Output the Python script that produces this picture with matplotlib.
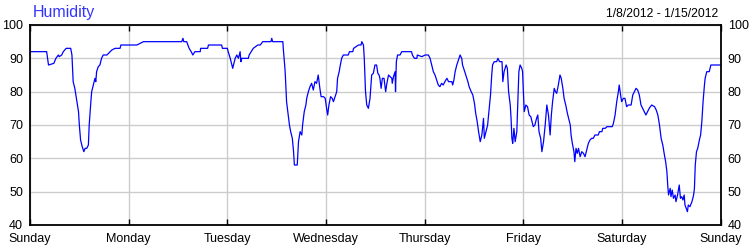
import matplotlib
matplotlib.use("Agg")
import matplotlib.pyplot as plt

# hours since Sunday 1/8/2012 00:00 and relative humidity (%)
hours = [
    0.0, 4.05, 4.5, 5.8, 6.3, 6.9, 7.1, 7.7, 8.1, 8.8, 9.9, 10.2, 10.5, 10.9, 11.4,
    11.8, 12.0, 12.3, 12.7, 13.1, 13.4, 13.8, 14.2, 14.4, 14.8, 15.0, 15.4, 15.8,
    16.0, 16.2, 16.6, 17.0, 17.4, 17.8, 18.7, 19.5, 19.9, 20.7, 21.9, 22.1, 24.3,
    26.0, 27.6,
    28.0, 36.9, 37.2, 37.4, 38.1, 38.4, 38.7, 39.2, 39.6, 40.1, 41.4, 41.5, 43.2,
    43.4, 46.6, 46.8, 48.0, 48.2, 48.7, 49.1, 49.3, 49.5, 49.9, 50.3, 50.7, 51.1,
    51.3, 51.5, 53.1, 53.3, 54.3, 55.4,
    56.0, 56.6, 58.6, 58.8, 59.0, 61.5, 61.6, 62.0, 62.1, 62.4, 62.8, 63.1, 63.4,
    63.8, 64.1, 64.3, 65.0, 65.3, 65.7, 66.1, 66.3, 66.7, 67.1, 67.3, 67.7, 68.1,
    68.5, 68.9, 69.3, 69.7, 70.1, 70.5, 70.8, 71.4, 71.8, 72.2, 72.4, 72.7, 73.1,
    73.5, 73.8, 74.2, 74.6, 74.8, 75.2, 75.4, 75.8, 76.2, 77.4, 77.7, 78.5, 78.7,
    79.9, 80.5, 80.7, 81.1, 81.3, 81.6, 81.9, 82.3, 82.7, 83.1, 83.5, 83.9,
    84.3, 84.6, 84.9, 85.1, 85.4, 85.7, 86.1, 86.5, 86.8, 87.2, 87.6, 88.0, 88.1,
    88.4, 88.8, 88.9, 89.1, 89.4, 90.0, 90.4, 92.8, 93.0, 93.5, 94.1, 94.2, 95.3,
    96.1, 96.9, 97.3, 97.7, 98.1, 98.5, 98.9, 99.3, 99.7, 100.1, 100.5, 100.9,
    101.4, 101.8, 102.6, 102.8, 103.1, 103.4, 103.8, 104.2, 104.6, 105.0, 105.2,
    105.6, 106.1, 106.5, 106.8, 107.3, 107.7, 108.1, 108.4, 108.7, 109.1, 109.5,
    109.9, 110.3, 110.5, 110.9, 111.3, 111.6, 112.0,
    112.3, 112.5, 112.9, 113.5, 113.8, 114.2, 114.8, 115.0, 115.3, 115.8, 116.1,
    116.4, 116.8, 117.0, 117.2, 117.4, 117.7, 118.0, 118.4, 118.6, 118.9, 119.2,
    119.6, 119.8, 120.0, 120.2, 120.6, 121.0, 121.4, 121.8, 122.1, 122.4, 122.8,
    123.2, 123.5, 123.8, 124.2, 124.5, 124.9, 125.3, 125.7, 126.1, 126.5, 126.8,
    127.1, 127.5, 127.8, 128.1, 128.5, 128.9, 129.2, 129.6, 129.9, 130.3, 130.7,
    131.0, 131.4, 131.6, 131.9, 132.3, 132.5, 132.8, 133.1, 133.4, 133.8, 134.2,
    134.6, 135.0, 135.4, 135.8, 136.2, 136.6, 137.0, 137.4, 138.2, 138.5, 139.1,
    139.3, 139.9,
    140.3, 141.6, 141.9, 142.3, 142.7, 143.1, 143.3, 143.7, 143.9, 144.3, 144.7,
    145.1, 145.5, 146.2, 146.6, 147.0, 147.4, 147.8, 148.2, 148.6, 149.0, 149.4,
    149.8, 150.2, 150.6, 151.2, 151.9, 152.3, 152.7, 153.1, 153.5, 153.9, 154.3,
    154.6, 154.9, 155.1, 155.3, 155.7, 155.9, 156.2, 156.5, 156.9, 157.1, 157.5,
    157.9, 158.2, 158.5, 158.8, 159.1, 159.3, 159.6, 159.9, 160.1, 160.5, 161.0,
    161.4, 161.6, 161.8, 162.1, 162.4, 162.8, 163.1, 163.4, 163.7, 164.0, 164.2,
    164.6, 165.2, 165.4, 165.6, 168.0,
]
humidity = [
    92, 92, 88, 88.5, 90, 91, 90.5, 91, 92, 93, 93, 91, 83, 81, 77,
    74, 70, 65.5, 63.5, 62, 63, 63, 64, 70, 77, 80, 82, 84,
    83, 86, 87.5, 88, 90, 91, 91, 92, 92.5, 93, 93, 94, 94,
    94, 95,
    95, 95, 96, 95, 95, 94, 93, 92, 91, 92, 92, 93, 93,
    94, 94, 93, 93, 92, 90, 88, 87, 88, 90, 91, 90, 92,
    89, 90, 90, 91, 93, 94,
    94, 95, 95, 96, 95, 95, 93, 87, 85, 77, 73, 70, 68,
    66, 62, 58, 58, 65, 68, 67, 70, 74, 76, 78, 80, 81.5,
    82.5, 80.5, 83, 82.5, 85, 81, 78.5, 78.5, 78, 74.5, 73, 76, 78.5,
    78, 77, 78.5, 80, 84, 86, 87.5, 90, 91, 91, 92, 92, 93,
    94, 94, 95, 94, 90, 80, 76, 75, 78, 85, 85.5, 88,
    88, 85.5, 85, 84, 81, 84, 84, 80, 82.5, 85, 84.5, 84, 82.5,
    84.5, 86, 80, 89, 91, 91, 92, 92, 91, 90, 90, 91, 90.5,
    91, 91, 90, 88, 86, 85, 83.5, 82, 81.5, 82.5, 82, 83,
    84, 83, 83, 82, 83.5, 86, 88, 89.5, 91, 90, 88,
    86.5, 84.5, 83, 81.5, 80, 79, 76.5, 73.5, 71.5, 68, 65,
    67, 72, 66, 68, 70, 74, 79,
    85, 88, 89, 89, 90, 89, 89, 83, 86, 88, 87,
    80, 76, 72, 66, 64.5, 69, 65, 68, 75, 86, 88,
    87, 86, 80, 74, 76, 75.5, 73, 72.5, 71, 69.5, 70,
    72, 73, 68, 66, 62, 65, 70, 76, 73, 67, 73,
    77, 81, 80, 79.5, 82, 85, 84, 81, 78, 76, 73.5,
    72, 70, 67, 64.5, 62, 59, 63, 61.5, 63, 60.5, 62,
    61.5, 60.5, 62.5, 64.5, 65.5, 66, 66, 67, 67, 68, 68,
    69, 69,
    69.5, 69.5, 70.5, 73, 77, 80, 82, 78.5, 77, 78, 78,
    75.5, 76, 76, 79, 80, 81, 80.5, 79, 76, 75, 74,
    73, 74, 75, 76, 75.5, 74.5, 73, 70, 66, 64, 61,
    59, 56, 52, 49, 51, 48.5, 50.5, 48, 49, 47, 49,
    52, 48, 48.5, 47.5, 49, 46, 45, 44, 46, 45.5, 47,
    49, 51, 58, 62, 63, 65.5, 67, 71, 77, 81.5, 84,
    86, 86, 87, 88, 88,
]

days = ["Sunday", "Monday", "Tuesday", "Wednesday", "Thursday",
        "Friday", "Saturday", "Sunday"]
day_hours = [0, 24, 48, 72, 96, 120, 144, 168]
y_ticks = [40, 50, 60, 70, 80, 90, 100]

plt.rcParams["font.family"] = ["Liberation Sans", "DejaVu Sans"]

fig = plt.figure(figsize=(7.5, 2.5), dpi=100)
ax = fig.add_axes([0.04, 0.1, 0.921, 0.8])

ax.plot(hours, humidity, color="#0000ff", linewidth=0.9)

ax.set_xlim(0, 168)
ax.set_ylim(40, 100)
ax.set_xticks(day_hours)
ax.set_xticklabels(days)
ax.set_yticks(y_ticks)

ax.grid(True, color="#cccccc", linewidth=1.0)
ax.set_axisbelow(True)

ax.tick_params(axis="x", direction="in", length=4, width=1, top=True,
               labelsize=9, pad=6, colors="black")
ax.tick_params(axis="y", length=0, labelsize=9, pad=5, right=True,
               labelright=True)
for s in ax.spines.values():
    s.set_linewidth(1.3)
    s.set_color("black")

fig.text(0.044, 0.932, "Humidity", color="#3333ff", fontsize=11.5,
         va="baseline", ha="left")
fig.text(0.957, 0.932, "1/8/2012 - 1/15/2012", color="black", fontsize=8.7,
         va="baseline", ha="right")

fig.savefig("out.png", dpi=100)
